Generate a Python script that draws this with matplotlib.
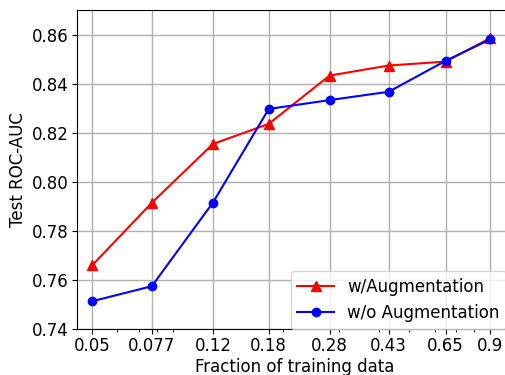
import matplotlib
matplotlib.use("Agg")
import matplotlib.pyplot as plt
from matplotlib.ticker import NullFormatter

fractions = [0.05, 0.077, 0.12, 0.18, 0.28, 0.43, 0.65, 0.9]
tick_labels = ["0.05", "0.077", "0.12", "0.18", "0.28", "0.43", "0.65", "0.9"]
with_aug = [0.7660, 0.7914, 0.8154, 0.8236, 0.8433, 0.8474, 0.8490, 0.8586]
without_aug = [0.7513, 0.7574, 0.7915, 0.8297, 0.8333, 0.8367, 0.8493, 0.8581]

fig = plt.figure(figsize=(5.05, 3.75), dpi=100)
ax = fig.add_axes([0.153, 0.123, 0.86, 0.85])

ax.plot(fractions, with_aug, color="red", marker="^", markersize=6.5,
        linewidth=1.5, label="w/Augmentation")
ax.plot(fractions, without_aug, color="blue", marker="o", markersize=6,
        linewidth=1.5, label="w/o Augmentation")

ax.set_xscale("log")
ax.set_xlim(0.0448, 1.05)
ax.set_xticks(fractions)
ax.set_xticklabels(tick_labels)
ax.xaxis.set_minor_formatter(NullFormatter())
ax.set_ylim(0.74, 0.87)
ax.set_yticks([0.74, 0.76, 0.78, 0.80, 0.82, 0.84, 0.86])
ax.tick_params(axis="both", which="major", labelsize=12, pad=2.5)

ax.grid(True, which="major", color="#b0b0b0", linewidth=1.0)
ax.set_axisbelow(True)

ax.set_xlabel("Fraction of training data", fontsize=12, labelpad=2)
ax.set_ylabel("Test ROC-AUC", fontsize=12, labelpad=4)

ax.legend(loc="lower right", fontsize=12, borderaxespad=0.0, framealpha=0.8,
          handlelength=2.2, bbox_to_anchor=(0.988, 0.0))

fig.savefig("out.png", dpi=100)
